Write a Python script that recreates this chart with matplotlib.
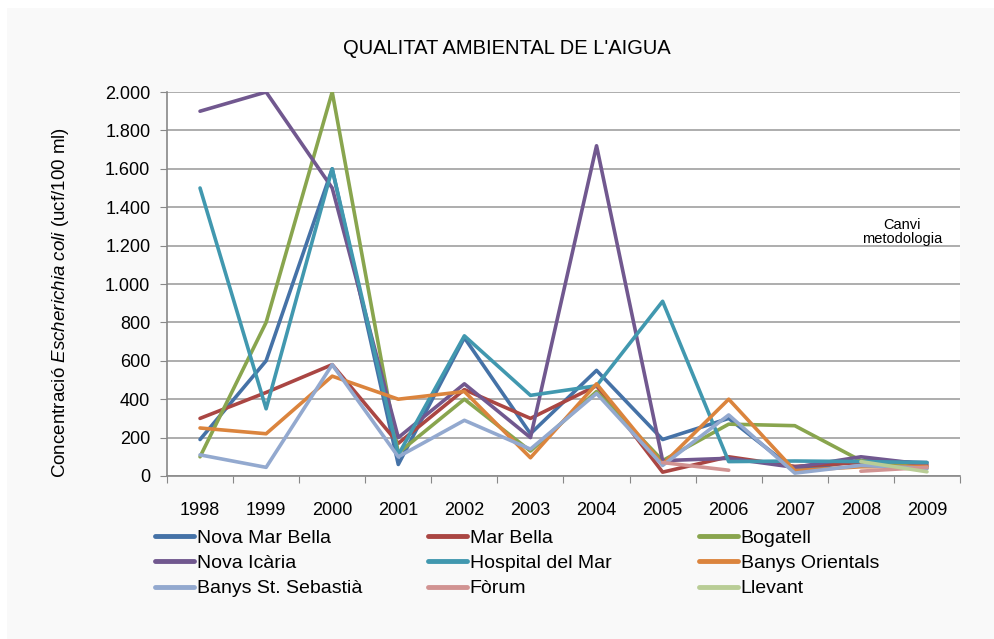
import numpy as np
import matplotlib
matplotlib.use("Agg")
import matplotlib.pyplot as plt
from matplotlib.lines import Line2D

plt.rcParams['font.family'] = ['Liberation Sans', 'DejaVu Sans']
plt.rcParams['mathtext.fontset'] = 'custom'
plt.rcParams['mathtext.rm'] = 'Liberation Sans'
plt.rcParams['mathtext.it'] = 'Liberation Sans:italic'

years = ['1998', '1999', '2000', '2001', '2002', '2003',
         '2004', '2005', '2006', '2007', '2008', '2009']
nan = np.nan

nova_mar_bella = [190, 600, 1600, 60, 720, 220, 550, 190, 300, 30, 80, 70]
mar_bella = [300, 435, 580, 170, 450, 300, 470, 20, 100, 50, 70, 50]
bogatell = [100, 800, 2000, 120, 400, 130, 440, 80, 270, 262, 80, 40]
nova_icaria = [1900, 2000, 1500, 200, 480, 200, 1720, 80, 92, 45, 100, 60]
hospital_mar = [1500, 350, 1600, 110, 730, 420, 470, 910, 75, 78, 75, 70]
banys_orientals = [250, 220, 520, 400, 440, 95, 480, 60, 400, 28, 48, 50]
banys_sebastia = [110, 45, 580, 100, 290, 140, 430, 55, 318, 15, 55, 40]
forum = [nan, nan, nan, nan, nan, nan, nan, 70, 30, nan, 25, 45]
llevant = [nan, nan, nan, nan, nan, nan, nan, nan, nan, nan, 75, 22]

series = [
    ('Nova Mar Bella', nova_mar_bella, '#4572a7'),
    ('Mar Bella', mar_bella, '#aa4643'),
    ('Bogatell', bogatell, '#89a54e'),
    ('Nova Icària', nova_icaria, '#71588f'),
    ('Hospital del Mar', hospital_mar, '#4198af'),
    ('Banys Orientals', banys_orientals, '#db843d'),
    ('Banys St. Sebastià', banys_sebastia, '#93a9cf'),
    ('Fòrum', forum, '#d19392'),
    ('Llevant', llevant, '#b9cd96'),
]

fig = plt.figure(figsize=(9.94, 6.39), dpi=100, facecolor='white')
# light grey chart area
fig.patches.append(plt.Rectangle((0.007, 0.0), 0.993, 0.987, transform=fig.transFigure,
                                 facecolor='#f9f9f9', edgecolor='none', zorder=-10))

ax = fig.add_axes([0.168, 0.2551, 0.7978, 0.6009])
ax.set_facecolor('white')

x = np.arange(len(years))
for name, vals, col in series:
    ax.plot(x, vals, color=col, lw=2.6, solid_capstyle='round',
            solid_joinstyle='round', label=name)

ax.set_xlim(-0.5, 11.5)
ax.set_ylim(0, 2000)
yt = np.arange(0, 2001, 200)
ax.set_yticks(yt)
ax.set_yticklabels(['{:,}'.format(v).replace(',', '.') for v in yt], fontsize=13)
ax.yaxis.grid(True, color='#a0a0a0', lw=1.2)
ax.set_axisbelow(True)

ax.set_xticks(np.arange(-0.5, 12, 1))
ax.set_xticklabels([])
ax.set_xticks(x, minor=True)
ax.set_xticklabels(years, minor=True, fontsize=13)
ax.tick_params(axis='x', which='major', length=5, color='#888888', direction='out')
ax.tick_params(axis='x', which='minor', length=0, pad=19)
ax.tick_params(axis='y', length=5, color='#888888', pad=7)

for s in ['top', 'right']:
    ax.spines[s].set_visible(False)
for s in ['left', 'bottom']:
    ax.spines[s].set_color('#888888')
    ax.spines[s].set_linewidth(1.2)

ax.text(10.62, 1270, 'Canvi\nmetodologia', ha='center', va='center',
        fontsize=10.5, linespacing=1.0)

fig.text(0.51, 0.924, "QUALITAT AMBIENTAL DE L'AIGUA", ha='center', va='center',
         fontsize=14.5)
fig.text(0.061, 0.527, r'Concentració $\mathit{Escherichia\ coli}$ (ucf/100 ml)',
         rotation=90, ha='center', va='center', fontsize=13.5)

# legend in three columns
col_x = [155 / 994, 428 / 994, 699 / 994]
for c in range(3):
    items = series[c::3]
    handles = [Line2D([], [], color=col, lw=3.5, solid_capstyle='round') for _, _, col in items]
    labels = [name for name, _, _ in items]
    fig.legend(handles, labels, loc='upper left', bbox_to_anchor=(col_x[c], 1 - 529 / 639),
               frameon=False, fontsize=14, handlelength=2.0, handletextpad=0.15,
               labelspacing=0.4, borderpad=0, borderaxespad=0)

fig.savefig('out.png', dpi=100, facecolor=fig.get_facecolor())
